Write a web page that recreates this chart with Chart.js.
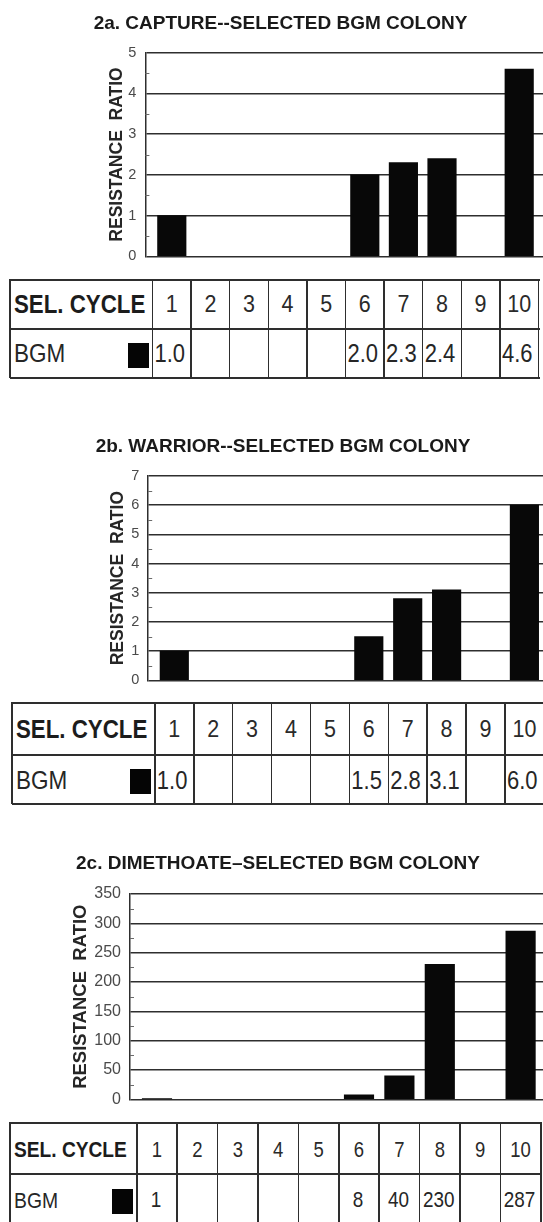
<!DOCTYPE html>
<html><head><meta charset="utf-8">
<script src="https://cdn.jsdelivr.net/npm/chart.js@4.4.1/dist/chart.umd.min.js"></script>
<style>
html,body{margin:0;padding:0;background:#fff;width:543px;height:1222px;overflow:hidden;position:relative;}
.panel{position:absolute;left:0;width:543px;}
.ln{position:absolute;background:#2e2e2e;}
.tx{position:absolute;white-space:nowrap;color:#1f1f1f;line-height:1;}
.sq{position:absolute;background:#050505;}
</style></head><body>
<div class="panel" id="pa" style="top:0px;height:274px"><canvas id="ca" width="543" height="274"></canvas></div>
<div class="panel" id="pb" style="top:420px;height:278px"><canvas id="cb" width="543" height="278"></canvas></div>
<div class="panel" id="pc" style="top:840px;height:278px"><canvas id="cc" width="543" height="278"></canvas></div>
<script>
// ---- data ----
const cycles = [1, 2, 3, 4, 5, 6, 7, 8, 9, 10];
const captureRatio = [1.0, null, null, null, null, 2.0, 2.3, 2.4, null, 4.6];
const warriorRatio = [1.0, null, null, null, null, 1.5, 2.8, 3.1, null, 6.0];
const dimethoateRatio = [1, null, null, null, null, 8, 40, 230, null, 287];
const chartTitles = ['2a. CAPTURE--SELECTED BGM COLONY', '2b. WARRIOR--SELECTED BGM COLONY', '2c. DIMETHOATE\u2013SELECTED BGM COLONY'];
const yAxisTitle = 'RESISTANCE  RATIO';
const rowHeader = 'SEL. CYCLE';
const seriesName = 'BGM';
const yMaxima = [5, 7, 350];
const yMajorSteps = [1, 1, 50];
const valueDecimals = [1, 1, 0];

// ---- fonts ----
function hasFont(name){
  const c = document.createElement('canvas').getContext('2d');
  const s = 'RESISTANCE RATIO 0123456789';
  c.font = '40px monospace'; const a = c.measureText(s).width;
  c.font = '40px "' + name + '", monospace'; const b = c.measureText(s).width;
  return Math.abs(a - b) > 1;
}
const NARROW = hasFont('Liberation Sans Narrow');
const FAMN = NARROW ? '"Liberation Sans Narrow", "Liberation Sans", Arial, sans-serif' : '"Liberation Sans", Arial, sans-serif';
const K = NARROW ? 1 / 0.82 : 1;
const STRETCH = NARROW ? 1 : 1.15;
const FAMR = '"Liberation Sans", Arial, sans-serif';

// ---- layout per panel ----
const layouts = [
  {canvas:'ca', top:0, height:274, titleCY:23.3, plotTop:52.7, plotBottom:263.3, plotLeft:145.4, x1:171.8, unit:38.6, padL:18, axisTitleX:117.5, axisTitleSize:17.5, tickSize:14.5, barW:28.5,
   tbl:{left:10, top:279.5, h1:49, h2:49.5, f:1.0, center:false}},
  {canvas:'cb', top:420, height:278, titleCY:446.7, plotTop:476, plotBottom:687, plotLeft:148.2, x1:174.3, unit:38.9, padL:23, axisTitleX:117.7, axisTitleSize:17.5, tickSize:14.5, barW:28.5,
   tbl:{left:12, top:703, h1:52, h2:49, f:1.0, center:false}},
  {canvas:'cc', top:840, height:278, titleCY:863.3, plotTop:894, plotBottom:1106.5, plotLeft:130, x1:157, unit:40.4, padL:13, axisTitleX:81, axisTitleSize:18.5, tickSize:16, barW:29.5,
   tbl:{left:10, top:1123, h1:51, h2:51, f:0.86, center:true}}
];
const seriesList = [captureRatio, warriorRatio, dimethoateRatio];

const minorTicks = {
  id:'minorTicks',
  afterDatasetsDraw(chart, args, opts){
    const y = chart.scales.y, ctx = chart.ctx, L = chart.chartArea.left;
    ctx.save(); ctx.strokeStyle = '#6a6a6a'; ctx.lineWidth = 1;
    y.ticks.forEach(t => {
      if (Math.abs(t.value % opts.major) > 1e-9) {
        const py = Math.round(y.getPixelForValue(t.value)) + 0.5;
        ctx.beginPath(); ctx.moveTo(L, py); ctx.lineTo(L + 4, py); ctx.stroke();
      }
    });
    ctx.restore();
  }
};

function addLine(x, y, w, h){
  const d = document.createElement('div'); d.className = 'ln';
  d.style.left = x + 'px'; d.style.top = y + 'px'; d.style.width = w + 'px'; d.style.height = h + 'px';
  document.body.appendChild(d);
}
function addText(txt, x, y, size, bold, align, color){
  const s = document.createElement('span'); s.className = 'tx'; s.textContent = txt;
  s.style.fontFamily = FAMN; s.style.fontSize = size + 'px'; s.style.fontWeight = bold ? 'bold' : 'normal';
  if (color) s.style.color = color;
  s.style.left = x + 'px'; s.style.top = y + 'px';
  s.style.transformOrigin = align === 'center' ? '50% 50%' : '0 50%';
  s.style.transform = (align === 'center' ? 'translate(-50%,-50%)' : 'translate(0,-50%)') + ' scaleY(' + STRETCH + ')';
  document.body.appendChild(s);
}

layouts.forEach((P, i) => {
  const vals = seriesList[i];
  const major = yMajorSteps[i];
  const tSize = 19 * K, tLH = tSize * 1.2;
  const pt = (P.titleCY - P.top) - tLH / 2;
  const pb = (P.plotTop - P.top) - pt - tLH;
  const xMin = 1 - (P.x1 - P.plotLeft) / P.unit;
  const xMax = xMin + (543 - P.plotLeft) / P.unit;
  const aLH = P.axisTitleSize * 1.2;
  const chart = new Chart(document.getElementById(P.canvas), {
    type:'bar',
    data:{datasets:[{
      label: seriesName,
      data: cycles.map((c, j) => ({x:c, y:vals[j]})).filter(p => p.y !== null),
      backgroundColor:'#080808', borderWidth:0, barThickness:P.barW
    }]},
    options:{
      responsive:false, animation:false, events:[],
      layout:{padding:{left:P.padL, right:0, top:0, bottom:(P.top + P.height) - P.plotBottom}},
      plugins:{
        legend:{display:false}, tooltip:{enabled:false},
        title:{display:true, text:chartTitles[i], color:'#1a1a1a',
          font:{family:FAMN, size:tSize, weight:'bold', lineHeight:1.2}, padding:{top:pt, bottom:pb}},
        minorTicks:{major:major}
      },
      scales:{
        x:{type:'linear', display:false, min:xMin, max:xMax, offset:false},
        y:{
          min:0, max:yMaxima[i],
          afterFit:(s) => { s.width = P.plotLeft - P.padL; },
          border:{display:true, color:'#2e2e2e', width:1.5},
          grid:{drawTicks:false, lineWidth:1.5,
            color:(c) => (c.tick && Math.abs(c.tick.value % major) < 1e-9) ? '#2e2e2e' : 'rgba(0,0,0,0)'},
          ticks:{stepSize:major / 2, autoSkip:false, padding:9, color:'#4a4a4a',
            font:{family:FAMR, size:P.tickSize},
            callback:(v) => (Math.abs(v % major) < 1e-9 ? String(v) : '')},
          title:{display:true, text:yAxisTitle, color:'#262626',
            font:{family:FAMR, size:P.axisTitleSize, weight:'bold', lineHeight:1.2},
            padding:{top:P.axisTitleX - P.padL - aLH / 2, bottom:0}}
        }
      }
    },
    plugins:[minorTicks]
  });

  // ---- data table aligned with the chart's x scale ----
  const xs = chart.scales.x;
  const T = P.tbl;
  const bounds = cycles.map(c => xs.getPixelForValue(c - 0.5));
  bounds.push(xs.getPixelForValue(cycles[cycles.length - 1] + 0.5));
  const right = bounds[bounds.length - 1];
  const bottom = T.top + T.h1 + T.h2;
  addLine(T.left, T.top - 1, right - T.left + 1, 2);
  addLine(T.left, T.top + T.h1 - 1, right - T.left + 1, 2);
  addLine(T.left, bottom - 1, right - T.left + 1, 2);
  addLine(T.left - 0.75, T.top - 1, 1.6, T.h1 + T.h2 + 1);
  bounds.forEach(b => addLine(b - 0.75, T.top - 1, 1.5, T.h1 + T.h2 + 1));
  const f = T.f * K;
  const hc = T.top + T.h1 / 2, dc = T.top + T.h1 + T.h2 / 2;
  addText(rowHeader, T.left + 4, hc + 1, 22.3 * f, true, 'left', '#1c1c1c');
  addText(seriesName, T.left + 4, dc + 1, 22.5 * f, false, 'left', '#262626');
  const sqW = 21, sqH = 25;
  const sq = document.createElement('div'); sq.className = 'sq';
  sq.style.left = (bounds[0] - 4 - sqW) + 'px'; sq.style.top = (dc + 2 - sqH / 2) + 'px';
  sq.style.width = sqW + 'px'; sq.style.height = sqH + 'px';
  document.body.appendChild(sq);
  cycles.forEach((c, j) => {
    const cx = (bounds[j] + bounds[j + 1]) / 2;
    addText(String(c), cx, hc + 1, 21.5 * f, false, 'center', '#2a2a2a');
    const v = vals[j];
    if (v !== null) {
      const s = v.toFixed(valueDecimals[i]);
      if (T.center) addText(s, cx - 1, dc + 1, 22 * f, false, 'center', '#262626');
      else addText(s, bounds[j] + 2, dc + 1, 22 * f, false, 'left', '#262626');
    }
  });
});
</script>
</body></html>
